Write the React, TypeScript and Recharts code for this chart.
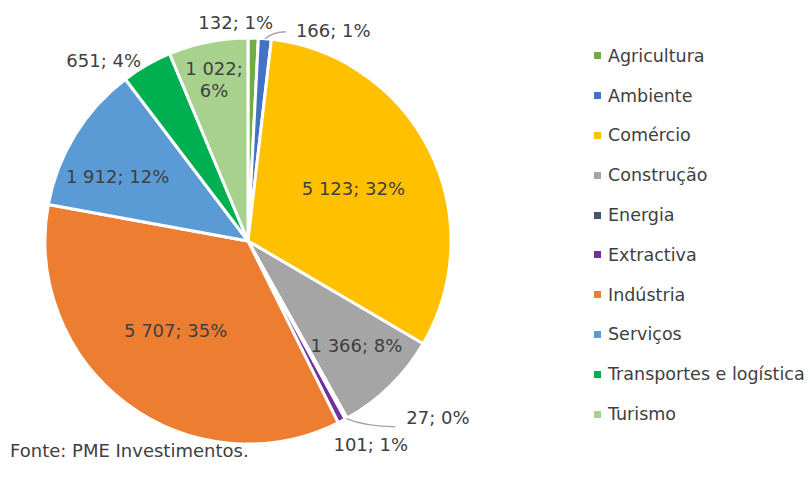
import { PieChart, Pie, Cell } from 'recharts';

const sectors = [
  'Agricultura',
  'Ambiente',
  'Comércio',
  'Construção',
  'Energia',
  'Extractiva',
  'Indústria',
  'Serviços',
  'Transportes e logística',
  'Turismo',
];
const counts = [132, 166, 5123, 1366, 27, 101, 5707, 1912, 651, 1022];
const percents = ['1%', '1%', '32%', '8%', '0%', '1%', '35%', '12%', '4%', '6%'];
const colors = [
  '#70ad47', '#4472c4', '#ffc000', '#a5a5a5', '#44546a',
  '#7030a0', '#ed7d31', '#5b9bd5', '#00b050', '#a9d18e',
];

const data = sectors.map((name, i) => ({ name, value: counts[i], pct: percents[i], color: colors[i] }));

const fmt = (n: number) => String(n).replace(/\B(?=(\d{3})+(?!\d))/g, ' ');

// label placement: radius factor, offset, anchor, optional leader line end (relative to edge point)
const labelLayout = [
  { rf: 1.09, dx: -18, dy: 3, anchor: 'middle' },
  { rf: 1, dx: 0, dy: 0, anchor: 'start', leader: [21, -7], gap: 10, ty: -1 },
  { rf: 0.58, dx: 0, dy: 0, anchor: 'middle' },
  { rf: 0.77, dx: -1, dy: -7, anchor: 'middle' },
  { rf: 1, dx: 0, dy: 0, anchor: 'start', leader: [49, 8], gap: 11, ty: -9 },
  { rf: 1, dx: 29, dy: 23, anchor: 'middle' },
  { rf: 0.74, dx: 18, dy: -30, anchor: 'middle' },
  { rf: 0.76, dx: 1, dy: 16, anchor: 'middle' },
  { rf: 1, dx: -43, dy: -5, anchor: 'middle' },
  { rf: 0.8, dx: -2, dy: -2, anchor: 'middle', split: true },
];

const RADIAN = Math.PI / 180;
const TEXT = '#404040';
const FONT = '"DejaVu Sans", sans-serif';

function renderLabel(props: any) {
  const { cx, cy, midAngle, outerRadius, index } = props;
  const cfg: any = labelLayout[index];
  const d = data[index];
  const cos = Math.cos(-midAngle * RADIAN);
  const sin = Math.sin(-midAngle * RADIAN);
  const r = outerRadius * cfg.rf;
  const px = cx + r * cos;
  const py = cy + r * sin;
  const text = `${fmt(d.value)}; ${d.pct}`;

  if (cfg.leader) {
    const ex = px + cfg.leader[0];
    const ey = py + cfg.leader[1];
    return (
      <g key={`l-${index}`}>
        <path
          d={`M${px},${py} Q${px + cfg.leader[0] * 0.4},${ey} ${ex},${ey}`}
          stroke="#a6a6a6"
          strokeWidth={1.5}
          fill="none"
        />
        <text
          x={ex + cfg.gap}
          y={ey + (cfg.ty || 0)}
          textAnchor="start"
          dominantBaseline="central"
          fill={TEXT}
          fontSize={18}
          fontFamily={FONT}
        >
          {text}
        </text>
      </g>
    );
  }

  const x = px + cfg.dx;
  const y = py + cfg.dy;
  if (cfg.split) {
    return (
      <text key={`l-${index}`} x={x} y={y} textAnchor="middle" fill={TEXT} fontSize={18} fontFamily={FONT}>
        <tspan x={x} dy={-5}>{`${fmt(d.value)};`}</tspan>
        <tspan x={x} dy={22}>{d.pct}</tspan>
      </text>
    );
  }
  return (
    <text
      key={`l-${index}`}
      x={x}
      y={y}
      textAnchor={cfg.anchor}
      dominantBaseline="central"
      fill={TEXT}
      fontSize={18}
      fontFamily={FONT}
    >
      {text}
    </text>
  );
}

export default function App() {
  return (
    <div
      style={{
        position: 'fixed',
        left: 0,
        top: 0,
        width: 810,
        height: 484,
        background: '#fff',
        fontFamily: FONT,
      }}
    >
      <PieChart width={810} height={484} margin={{ top: 0, right: 0, bottom: 0, left: 0 }}>
        <Pie
          data={data}
          dataKey="value"
          nameKey="name"
          cx={248}
          cy={241}
          outerRadius={203}
          startAngle={90}
          endAngle={-270}
          stroke="#fff"
          strokeWidth={3}
          label={renderLabel}
          labelLine={false}
          isAnimationActive={false}
        >
          {data.map((d) => (
            <Cell key={d.name} fill={d.color} />
          ))}
        </Pie>
      </PieChart>
      <div style={{ position: 'absolute', left: 594, top: 36, display: 'flex', flexDirection: 'column' }}>
        {data.map((d) => (
          <div key={d.name} style={{ display: 'flex', alignItems: 'center', height: 39.8 }}>
            <span style={{ width: 7, height: 7, background: d.color, marginRight: 7, display: 'inline-block' }} />
            <span style={{ fontSize: 17.5, color: TEXT, whiteSpace: 'nowrap' }}>{d.name}</span>
          </div>
        ))}
      </div>
      <div style={{ position: 'absolute', left: 10, top: 440, fontSize: 18, color: TEXT }}>
        Fonte: PME Investimentos.
      </div>
    </div>
  );
}
